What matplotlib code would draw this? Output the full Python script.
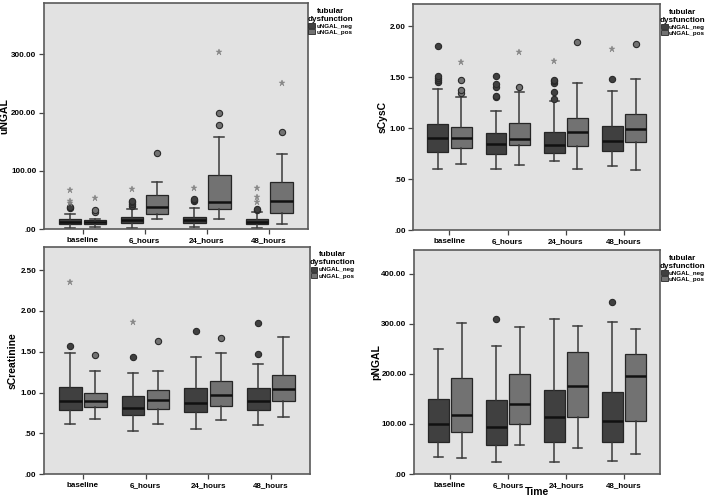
import matplotlib
matplotlib.use("Agg")
import matplotlib.pyplot as plt
from matplotlib.patches import Patch

plt.rcParams['font.family'] = ['Liberation Sans', 'DejaVu Sans']

times = ["baseline", "6_hours", "24_hours", "48_hours"]
groups = ["uNGAL_neg", "uNGAL_pos"]

# box stats per time point: (whislo, q1, med, q3, whishi, circles, stars)
ungal_neg = [
    (1, 9, 13, 17, 26, [37, 38], [45, 48, 67]),
    (2, 11, 15.5, 20, 34, [40, 43, 46, 48], [68]),
    (3, 10, 15, 20, 36, [48, 50, 51], [70]),
    (2, 9, 13, 17, 30, [33, 35], [47, 55, 70]),
]
ungal_pos = [
    (4, 9, 12, 16, 18, [30, 32], [53]),
    (17, 26, 38, 58, 80, [131], []),
    (18, 34, 46, 92, 158, [178, 200], [304]),
    (9, 27, 49, 80, 128, [167], [250]),
]
scysc_neg = [
    (0.60, 0.765, 0.90, 1.04, 1.39, [1.45, 1.47, 1.49, 1.51, 1.81], []),
    (0.595, 0.745, 0.85, 0.955, 1.17, [1.31, 1.32, 1.40, 1.43, 1.51], []),
    (0.68, 0.76, 0.84, 0.965, 1.27, [1.29, 1.36, 1.44, 1.46, 1.47], [1.66]),
    (0.63, 0.78, 0.875, 1.02, 1.37, [1.48], [1.78]),
]
scysc_pos = [
    (0.65, 0.81, 0.90, 1.01, 1.31, [1.35, 1.38, 1.47], [1.65]),
    (0.635, 0.835, 0.89, 1.055, 1.36, [1.40], [1.75]),
    (0.595, 0.83, 0.96, 1.10, 1.44, [1.85], []),
    (0.59, 0.865, 0.99, 1.135, 1.48, [1.83], []),
]
screat_neg = [
    (0.62, 0.79, 0.89, 1.07, 1.48, [1.57], [2.36]),
    (0.53, 0.72, 0.81, 0.96, 1.24, [1.44], [1.87]),
    (0.55, 0.76, 0.87, 1.06, 1.43, [1.76], []),
    (0.60, 0.78, 0.90, 1.05, 1.35, [1.47, 1.85], []),
]
screat_pos = [
    (0.67, 0.82, 0.89, 1.00, 1.26, [1.46], []),
    (0.61, 0.80, 0.91, 1.03, 1.26, [1.63], []),
    (0.66, 0.84, 0.97, 1.14, 1.48, [1.67], []),
    (0.70, 0.90, 1.04, 1.22, 1.68, [], []),
]
pngal_neg = [
    (35, 64, 100, 149, 250, [], []),
    (25, 59, 93, 148, 256, [309], []),
    (25, 64, 113, 168, 309, [], []),
    (27, 64, 106, 164, 304, [344], []),
]
pngal_pos = [
    (33, 83, 118, 192, 301, [], []),
    (58, 99, 139, 200, 294, [], []),
    (52, 113, 175, 243, 296, [], []),
    (40, 106, 195, 239, 289, [], []),
]

# name, data, ticks, top, axes rect, ylabel x (axes fraction)
panels = [
    ("uNGAL", ungal_neg, ungal_pos, [0, 100, 200, 300], 388, [0.062, 0.540, 0.372, 0.454], -0.13),
    ("sCysC", scysc_neg, scysc_pos, [0, 0.5, 1.0, 1.5, 2.0], 2.22, [0.583, 0.538, 0.348, 0.454], -0.105),
    ("sCreatinine", screat_neg, screat_pos, [0, 0.5, 1.0, 1.5, 2.0, 2.5], 2.79, [0.062, 0.048, 0.375, 0.457], -0.10),
    ("pNGAL", pngal_neg, pngal_pos, [0, 100, 200, 300, 400], 447, [0.584, 0.048, 0.347, 0.450], -0.132),
]

colors = ["#404040", "#727272"]
edge = "#262626"
bg = "#e2e2e2"


def fmt(v):
    s = f"{v:.2f}"
    return s[1:] if s.startswith("0") else s


fig = plt.figure(figsize=(7.09, 4.98), dpi=100)

for i, (name, neg, pos, yticks, ytop, rect, labx) in enumerate(panels):
    ax = fig.add_axes(rect)
    ax.set_facecolor(bg)
    for g, data in enumerate([neg, pos]):
        stats = []
        for lo, q1, med, q3, hi, circ, star in data:
            stats.append(dict(whislo=lo, q1=q1, med=med, q3=q3, whishi=hi, fliers=[]))
        offs = -0.2 if g == 0 else 0.2
        positions = [k + offs for k in range(len(times))]
        ax.bxp(stats, positions=positions, widths=0.36, patch_artist=True,
               showfliers=False, capwidths=0.16,
               boxprops=dict(facecolor=colors[g], edgecolor=edge, linewidth=0.9),
               medianprops=dict(color="#111111", linewidth=1.8),
               whiskerprops=dict(color="#3a3a3a", linewidth=1.1),
               capprops=dict(color="#3a3a3a", linewidth=1.1))
        for k, row in enumerate(data):
            circ, star = row[5], row[6]
            if circ:
                ax.plot([positions[k]] * len(circ), circ, "o", ms=4.5,
                        mfc=colors[g], mec="#2a2a2a", mew=0.8, zorder=4)
            if star:
                ax.plot([positions[k]] * len(star), star, "*", ms=5,
                        color="#8a8a8a", mec="#7a7a7a", mew=0.3, zorder=4)
    ax.set_xlim(-0.62, 3.62)
    ax.set_ylim(0, ytop)
    ax.set_xticks(range(len(times)))
    ax.set_xticklabels(times, fontsize=5.8, fontweight="bold")
    ax.set_yticks(yticks)
    ax.set_yticklabels([fmt(v) for v in yticks], fontsize=5.8, fontweight="bold")
    ax.tick_params(length=3.5, width=0.9, color="#444444", pad=2)
    for sp in ax.spines.values():
        sp.set_color("#5a5a5a")
        sp.set_linewidth(1.2)
    ax.set_ylabel(name, fontsize=7.5, fontweight="bold")
    ax.yaxis.set_label_coords(labx, 0.5)
    if i == 3:
        ax.set_xlabel("Time", fontsize=7.5, fontweight="bold")
        ax.xaxis.set_label_coords(0.5, -0.058)
    handles = [Patch(facecolor=colors[0], edgecolor=edge, linewidth=0.6),
               Patch(facecolor=colors[1], edgecolor=edge, linewidth=0.6)]
    leg = ax.legend(handles, groups, title="tubular\ndysfunction", loc="upper left",
                    bbox_to_anchor=(0.995, 0.985), frameon=False, fontsize=4.5,
                    title_fontsize=5.8, handlelength=1.1, handleheight=0.8,
                    handletextpad=0.2, labelspacing=0.1, borderaxespad=0.1,
                    borderpad=0.1)
    leg.get_title().set_fontweight("bold")
    leg.get_title().set_multialignment("center")
    for t in leg.get_texts():
        t.set_fontweight("bold")

fig.savefig("out.png", dpi=100, facecolor="white")
